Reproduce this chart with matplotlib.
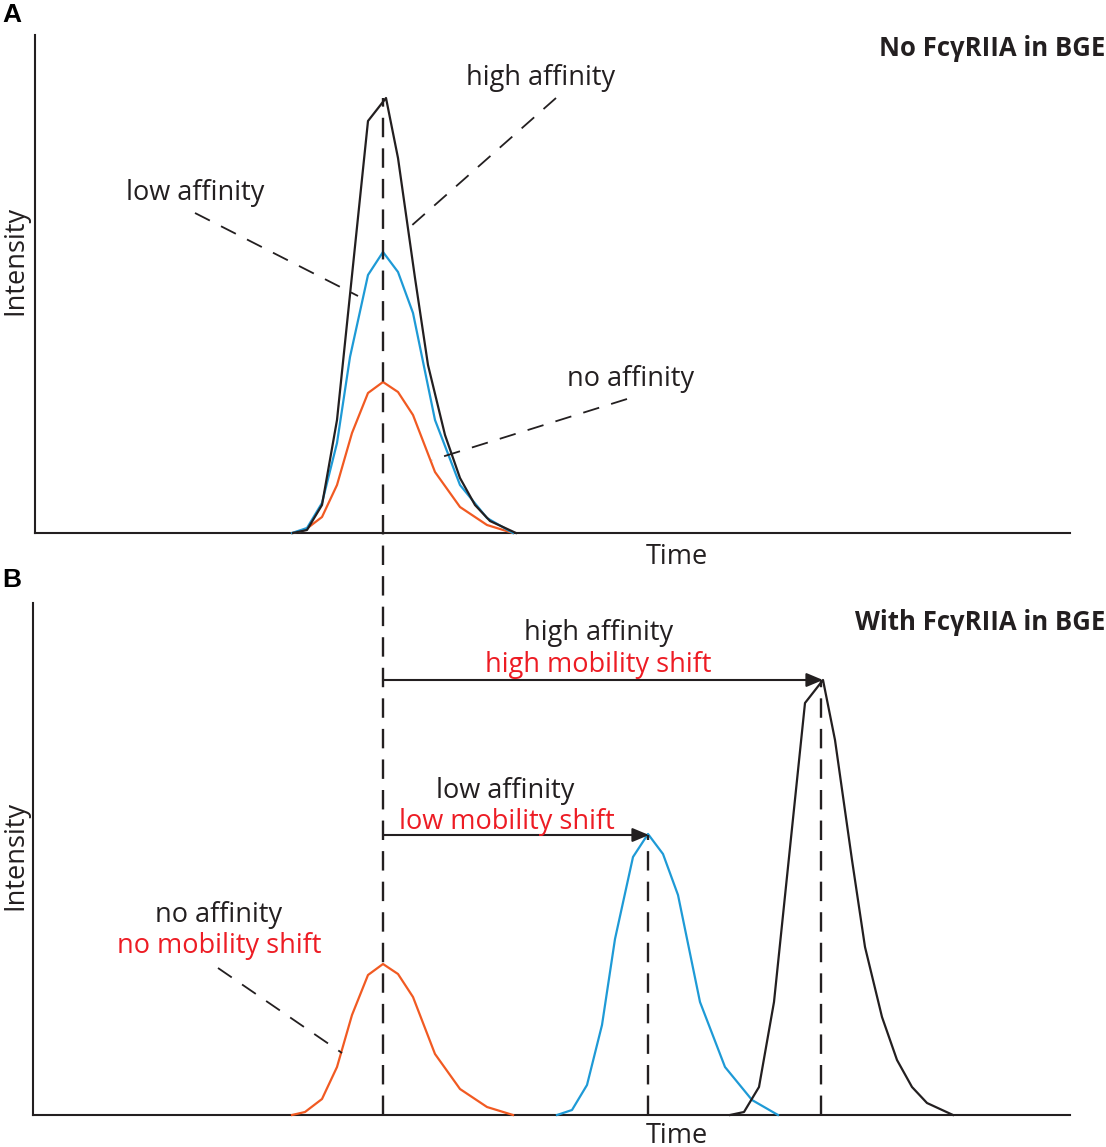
import numpy as np
import matplotlib
matplotlib.use("Agg")
import matplotlib.pyplot as plt

plt.rcParams['font.family'] = ['Open Sans', 'DejaVu Sans']
plt.rcParams['lines.scale_dashes'] = False

W, H = 1106, 1147

# peak shapes (time, intensity)
no_t = [257, 270, 287, 302, 317, 333, 348, 363, 378, 400, 425, 452, 478]
no_i = [0, 3, 16, 48, 100, 140, 151, 141, 118, 61, 26, 8, 0]

low_t = [257, 272, 287, 302, 315, 333, 348, 363, 378, 400, 425, 452, 478]
low_i = [0, 5, 30, 90, 176, 258, 281, 261, 220, 113, 48, 15, 0]

high_t = [258, 272, 287, 302, 333, 351, 363, 380, 393, 410, 425, 440, 455, 481]
high_i = [0, 3, 28, 113, 412, 435, 375, 255, 168, 98, 55, 28, 12, 0]

# migration shift in panel B
shift_no = 0
shift_low = 265
shift_high = 437

BLACK = '#231f20'
BLUE = '#1e9ad6'
ORANGE = '#f15a22'
RED = '#ed1c24'
DASH = (0, (14, 8))


def fx(x):
    return x / W


def fy(y):
    return 1 - y / H


fig = plt.figure(figsize=(W / 100, H / 100), dpi=100)

ax_a = fig.add_axes([fx(35), fy(533), fx(1070) - fx(35), fy(35) - fy(533)])
ax_b = fig.add_axes([fx(33), fy(1115), fx(1070) - fx(33), fy(603) - fy(1115)])
ax_a.set_xlim(0, 1035)
ax_a.set_ylim(0, 498)
ax_b.set_xlim(-2, 1035)
ax_b.set_ylim(0, 512)

for ax in (ax_a, ax_b):
    ax.set_facecolor('none')
    for s in ('top', 'right'):
        ax.spines[s].set_visible(False)
    for s in ('left', 'bottom'):
        ax.spines[s].set_linewidth(1.5)
        ax.spines[s].set_color(BLACK)
    ax.set_xticks([])
    ax.set_yticks([])

# panel A
ax_a.plot(no_t, no_i, color=ORANGE, lw=1.6, clip_on=False, zorder=3)
ax_a.plot(low_t, low_i, color=BLUE, lw=1.6, clip_on=False, zorder=3)
ax_a.plot(high_t, high_i, color=BLACK, lw=1.6, clip_on=False, zorder=3)

# panel B
ax_b.plot(np.array(no_t) + shift_no, no_i, color=ORANGE, lw=1.6, clip_on=False, zorder=3)
ax_b.plot(np.array(low_t) + shift_low, low_i, color=BLUE, lw=1.6, clip_on=False, zorder=3)
ax_b.plot(np.array(high_t) + shift_high, high_i, color=BLACK, lw=1.6, clip_on=False, zorder=3)

# long dashed line through both panels
ax_b.plot([348, 348], [0, 1017], color=BLACK, lw=1.7, ls=DASH, clip_on=False, zorder=4)
ax_b.plot([613, 613], [0, 280], color=BLACK, lw=1.7, ls=DASH, zorder=4)
ax_b.plot([786, 786], [0, 435], color=BLACK, lw=1.7, ls=DASH, zorder=4)

# arrows
arrow = dict(arrowstyle='-|>,head_length=1.0,head_width=0.42', color=BLACK, lw=1.5,
             shrinkA=0, shrinkB=0)
ax_b.annotate('', xy=(788, 435), xytext=(348, 435), arrowprops=arrow)
ax_b.annotate('', xy=(614, 280), xytext=(348, 280), arrowprops=arrow)

# leader lines
lead = dict(color=BLACK, lw=1.3, ls=(0, (12, 9)), clip_on=False, zorder=5)
ax_a.plot([521, 375], [435, 306], **lead)
ax_a.plot([160, 323], [320, 237], **lead)
ax_a.plot([592, 397], [134, 73], **lead)
ax_b.plot([183, 307], [147, 62], **lead)

# texts
fs = 19.5
fig.text(fx(12), fy(15), 'A', fontsize=19, fontweight='bold', family='Liberation Sans',
         ha='center', va='center', color='black')
fig.text(fx(12), fy(580), 'B', fontsize=19, fontweight='bold', family='Liberation Sans',
         ha='center', va='center', color='black')
fig.text(fx(1105), fy(48), 'No FcγRIIA in BGE', fontsize=18.5, fontweight='bold',
         ha='right', va='center', color=BLACK)
fig.text(fx(1105), fy(623), 'With FcγRIIA in BGE', fontsize=18.5, fontweight='bold',
         ha='right', va='center', color=BLACK)

labels = [
    (541, 78, 'high affinity', BLACK),
    (195, 193, 'low affinity', BLACK),
    (631, 379, 'no affinity', BLACK),
    (599, 633, 'high affinity', BLACK),
    (598, 665, 'high mobility shift', RED),
    (505, 791, 'low affinity', BLACK),
    (507, 822, 'low mobility shift', RED),
    (219, 915, 'no affinity', BLACK),
    (219, 946, 'no mobility shift', RED),
    (677, 557, 'Time', BLACK),
    (677, 1136, 'Time', BLACK),
]
for x, y, s, c in labels:
    fig.text(fx(x), fy(y), s, fontsize=fs, ha='center', va='center', color=c)

fig.text(fx(15), fy(260), 'Intensity', fontsize=fs, rotation=90, ha='center', va='center', color=BLACK)
fig.text(fx(15), fy(855), 'Intensity', fontsize=fs, rotation=90, ha='center', va='center', color=BLACK)

fig.savefig('out.png', dpi=100, facecolor='white')
